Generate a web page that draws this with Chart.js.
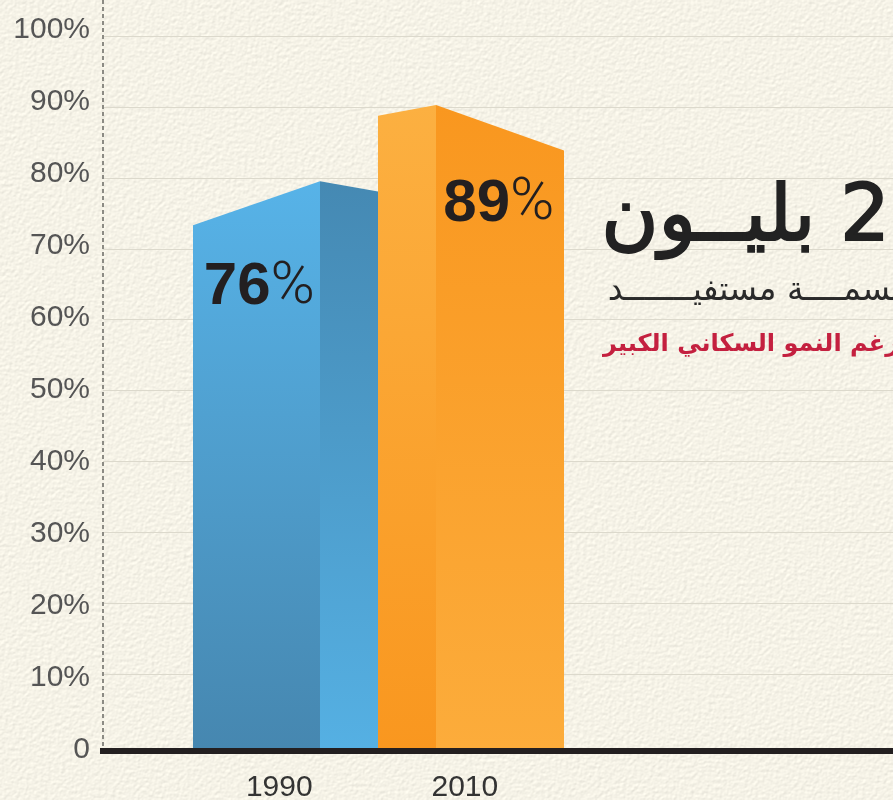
<!DOCTYPE html>
<html lang="ar">
<head>
<meta charset="utf-8">
<style>
  html, body { margin: 0; padding: 0; }
  body {
    width: 893px; height: 800px; overflow: hidden; position: relative;
    background-color: #f5f2e6;
    background-image: url("data:image/svg+xml,%3Csvg xmlns='http://www.w3.org/2000/svg' width='893' height='800'%3E%3Cfilter id='p' x='0' y='0' width='100%25' height='100%25' color-interpolation-filters='sRGB'%3E%3CfeTurbulence type='fractalNoise' baseFrequency='.28' numOctaves='3' seed='4'/%3E%3CfeDiffuseLighting lighting-color='%23fffcf0' surfaceScale='.25' diffuseConstant='1.09'%3E%3CfeDistantLight azimuth='60' elevation='62'/%3E%3C/feDiffuseLighting%3E%3C/filter%3E%3Crect width='893' height='800' filter='url(%23p)'/%3E%3C/svg%3E");
  }
  canvas { position: absolute; left: 0; top: 0; }
  .note { position: absolute; white-space: nowrap; direction: rtl; font-family: "DejaVu Sans", sans-serif; line-height: 1; }
  #headline { right: 3px; top: 174px; font-size: 78px; color: #222; -webkit-text-stroke: 2px #222; }
  #subline { right: -8px; top: 272px; font-size: 33px; color: #2a2a2a; }
  #caption { right: -6px; top: 331px; font-size: 24px; font-weight: bold; color: #c4203f; }
</style>
</head>
<body>
<canvas id="myChart" width="893" height="800"></canvas>
<div class="note" id="headline">2 بليــون</div>
<div class="note" id="subline">نسمــــة مستفيـــــــد</div>
<div class="note" id="caption">رغم النمو السكاني الكبير</div>
<script src="https://cdn.jsdelivr.net/npm/chart.js@4"></script>
<script>
const years = [1990, 2010];
const shares = [76, 89];
const labelTicks = [0, 10, 20, 30, 40, 50, 60, 70, 80, 90, 100];
const gridTicks = [10, 20, 30, 40, 50, 60, 70, 80, 90, 100];

const tickFont = { family: "'Liberation Sans', sans-serif", size: 30 };

// top edge of each prism, relative to its value, and where the fold sits
const prisms = [
  { left: -3.4, fold: 2.7, right: 1.3, foldAt: 0.683, faces: [['#57b3e8', '#4687b0'], ['#4589b3', '#55b0e3']] },
  { left: -1.2, fold: 0.3, right: -6.0, foldAt: 0.313, faces: [['#fcb041', '#f9971f'], ['#f9971f', '#fcac3b']] }
];
const valueLabelOffset = [{ x: -26, y: 87 }, { x: 28, y: 97 }];

function drawFace(ctx, x1, y1, x2, y2, base, colors) {
  const grad = ctx.createLinearGradient(0, Math.min(y1, y2), 0, base);
  grad.addColorStop(0, colors[0]);
  grad.addColorStop(1, colors[1]);
  ctx.fillStyle = grad;
  ctx.beginPath();
  ctx.moveTo(x1, base);
  ctx.lineTo(x1, y1);
  ctx.lineTo(x2, y2);
  ctx.lineTo(x2, base);
  ctx.closePath();
  ctx.fill();
}

const prismPlugin = {
  id: 'prism',
  beforeDatasetsDraw(chart) {
    // dashed y axis line, chart.js borders have no dash option
    const ctx = chart.ctx;
    const area = chart.chartArea;
    ctx.save();
    ctx.strokeStyle = '#8c8b84';
    ctx.lineWidth = 2;
    ctx.setLineDash([4, 3]);
    ctx.beginPath();
    ctx.moveTo(area.left, area.top);
    ctx.lineTo(area.left, area.bottom);
    ctx.stroke();
    ctx.restore();
  },
  afterDatasetsDraw(chart) {
    const ctx = chart.ctx;
    const y = chart.scales.y;
    const bars = chart.getDatasetMeta(0).data;
    ctx.save();
    bars.forEach((bar, i) => {
      const p = prisms[i];
      const v = shares[i];
      // whole pixels so no light seam shows along the fold
      const x0 = Math.round(bar.x - bar.width / 2);
      const x1 = Math.round(bar.x + bar.width / 2);
      const xf = Math.round(x0 + bar.width * p.foldAt);
      const base = y.getPixelForValue(0);
      drawFace(ctx, x0, y.getPixelForValue(v + p.left), xf, y.getPixelForValue(v + p.fold), base, p.faces[0]);
      drawFace(ctx, xf, y.getPixelForValue(v + p.fold), x1, y.getPixelForValue(v + p.right), base, p.faces[1]);
    });
    // value labels: bold number, thin percent sign
    bars.forEach((bar, i) => {
      const off = valueLabelOffset[i];
      const num = String(shares[i]);
      ctx.textBaseline = 'middle';
      ctx.textAlign = 'left';
      ctx.fillStyle = '#231f20';
      ctx.font = "bold 60px 'Liberation Sans', sans-serif";
      const w1 = ctx.measureText(num).width;
      ctx.font = "300 60px Roboto, 'Liberation Sans', sans-serif";
      const w2 = ctx.measureText('%').width;
      const start = bar.x + off.x - (w1 + w2) / 2;
      const ty = bar.y + off.y;
      ctx.font = "bold 60px 'Liberation Sans', sans-serif";
      ctx.fillText(num, start, ty);
      ctx.font = "300 60px Roboto, 'Liberation Sans', sans-serif";
      ctx.fillText('%', start + w1, ty);
    });
    ctx.restore();
  }
};

const chart = new Chart('myChart', {
  type: 'bar',
  data: {
    datasets: [{
      data: years.map((year, i) => ({ x: year, y: shares[i] })),
      backgroundColor: 'rgba(0,0,0,0)',
      barPercentage: 1,
      categoryPercentage: 1
    }]
  },
  plugins: [prismPlugin],
  options: {
    responsive: false,
    animation: false,
    layout: { padding: 0 },
    plugins: { legend: { display: false }, tooltip: { enabled: false } },
    scales: {
      x: {
        type: 'linear',
        offset: false,
        min: 1970.35,
        max: 2055.5,
        grid: { display: false, offset: false },
        border: { color: '#231f20', width: 6, z: 1 },
        afterBuildTicks(scale) { scale.ticks = years.map(value => ({ value })); },
        afterFit(scale) {
          scale.height = 49;
          scale.paddingLeft = 0;
          scale.paddingRight = 0;
        },
        ticks: {
          autoSkip: false,
          maxRotation: 0,
          padding: 11,
          labelOffset: -6,
          color: '#333',
          font: tickFont,
          callback: value => String(value)
        }
      },
      y: {
        position: 'left',
        min: -0.42,
        max: 103.89,
        grid: { display: false },
        border: { display: false },
        afterBuildTicks(scale) { scale.ticks = labelTicks.map(value => ({ value })); },
        afterFit(scale) {
          scale.width = 103;
          scale.paddingTop = 0;
          scale.paddingBottom = 0;
        },
        ticks: {
          padding: 5,
          labelOffset: 2,
          color: '#555',
          font: tickFont,
          callback: value => (value === 0 ? '0' : value + '%')
        }
      },
      // the printed grid does not quite line up with the printed labels
      gridY: {
        position: 'right',
        min: -0.85,
        max: 105.15,
        border: { display: false },
        grid: { color: '#dcd9cc', lineWidth: 1, drawTicks: false },
        afterBuildTicks(scale) { scale.ticks = gridTicks.map(value => ({ value })); },
        afterFit(scale) {
          scale.width = 0;
          scale.paddingTop = 0;
          scale.paddingBottom = 0;
        },
        ticks: { display: false }
      }
    }
  }
});
</script>
</body>
</html>
